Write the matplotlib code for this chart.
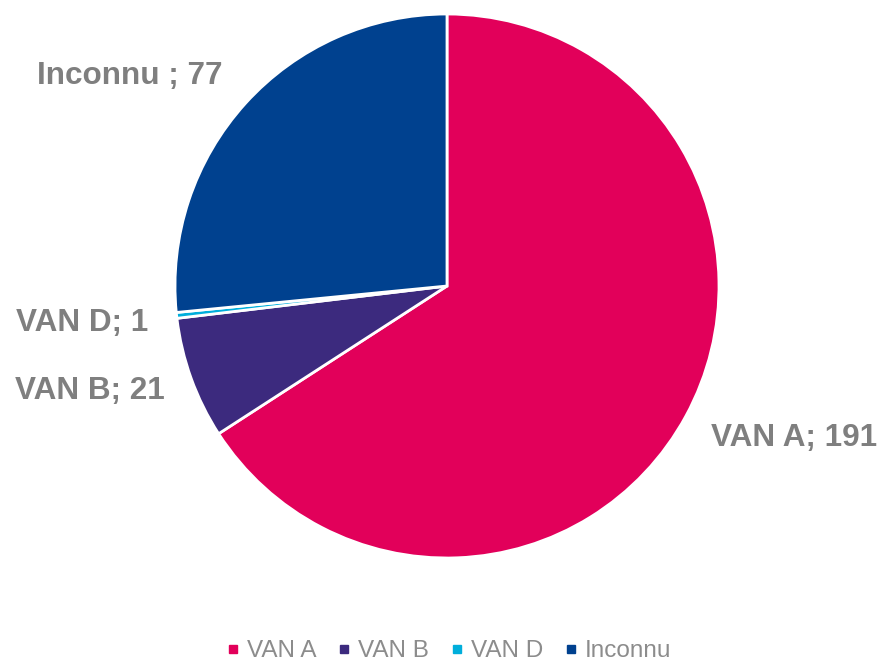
import matplotlib
matplotlib.use("Agg")
import matplotlib.pyplot as plt
from matplotlib.lines import Line2D

labels = ["VAN A", "VAN B", "VAN D", "Inconnu"]
values = [191, 21, 1, 77]
colors = ["#E2005A", "#3C2A7E", "#00AEDB", "#00418F"]
label_texts = ["VAN A; 191", "VAN B; 21", "VAN D; 1", "Inconnu ; 77"]
# label anchor positions (data coords, pie radius = 1) and alignment
label_pos = [(0.97, -0.558, "left"), (-1.037, -0.385, "right"),
             (-1.099, -0.135, "right"), (-0.827, 0.773, "right")]

plt.rcParams['font.family'] = ['Liberation Sans', 'DejaVu Sans']

W, H = 879, 661
fig = plt.figure(figsize=(W / 100, H / 100), dpi=100)
cx, cy, r = 447, 286, 272
ax = fig.add_axes([(cx - r) / W, (H - cy - r) / H, 2 * r / W, 2 * r / H])

ax.pie(values, colors=colors, startangle=90, counterclock=False, radius=1,
       wedgeprops=dict(edgecolor="white", linewidth=2))
ax.set_xlim(-1, 1)
ax.set_ylim(-1, 1)
ax.set_aspect("equal")
ax.axis("off")

for txt, (x, y, ha) in zip(label_texts, label_pos):
    ax.text(x, y, txt, ha=ha, va="center", fontsize=22.7, fontweight="bold",
            color="#7F7F7F", clip_on=False)

handles = [Line2D([0], [0], marker="s", linestyle="none", markersize=6,
                  markerfacecolor=c, markeredgecolor=c) for c in colors]
fig.legend(handles, labels, loc="center", bbox_to_anchor=(449 / W, 1 - 651 / H),
           ncol=4, frameon=False, fontsize=17.5, labelcolor="#8C8C8C",
           handlelength=0.5, handletextpad=0.32, columnspacing=0.9)

fig.savefig("out.png", dpi=100)
